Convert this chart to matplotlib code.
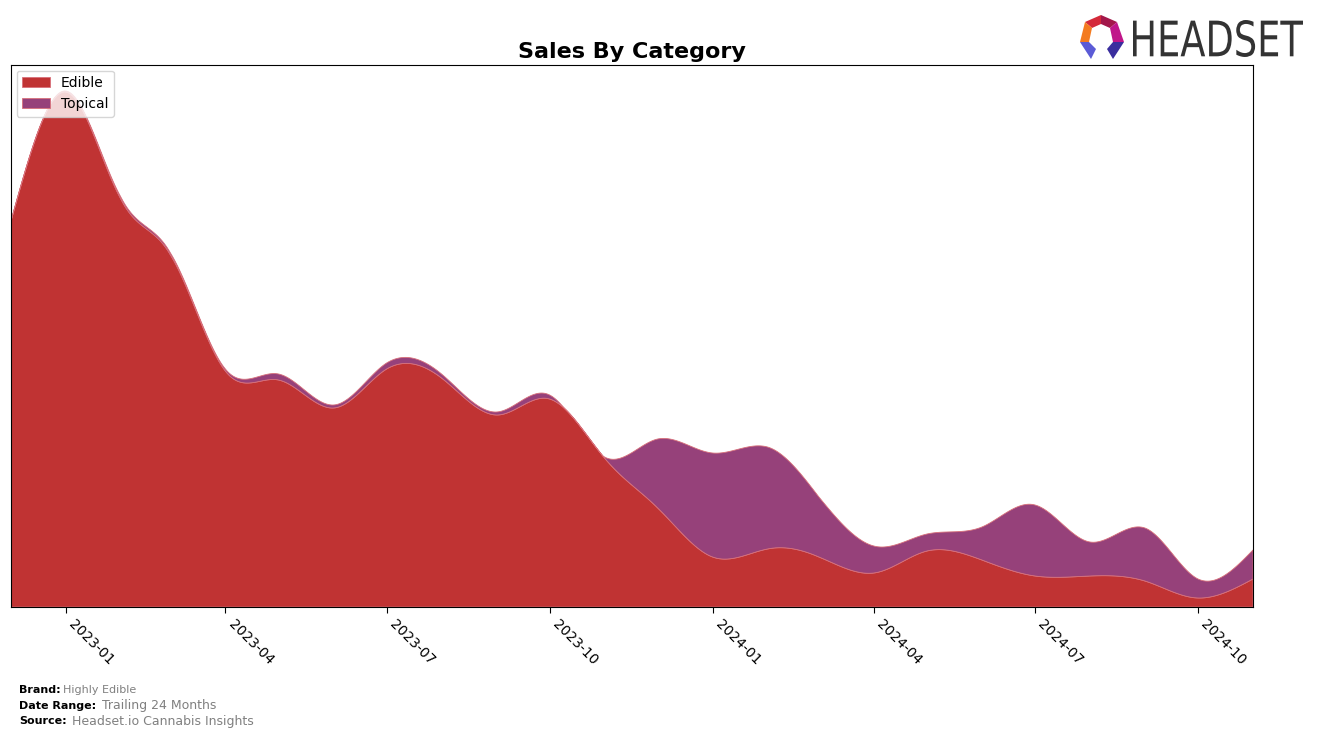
import numpy as np
import matplotlib
matplotlib.use("Agg")
import matplotlib.pyplot as plt
import matplotlib.dates as mdates
from matplotlib.patches import Polygon, PathPatch
from matplotlib.textpath import TextPath
from matplotlib.font_manager import FontProperties
from matplotlib.transforms import Affine2D
import datetime as dt

# monthly sales (arbitrary units)
months = ["2022-12", "2023-01", "2023-02", "2023-03", "2023-04", "2023-05",
          "2023-06", "2023-07", "2023-08", "2023-09", "2023-10", "2023-11",
          "2023-12", "2024-01", "2024-02", "2024-03", "2024-04", "2024-05",
          "2024-06", "2024-07", "2024-08", "2024-09", "2024-10", "2024-11"]
edible = [386, 515, 408, 352, 236, 227, 199, 238, 229, 192, 208, 149,
          99, 50, 58, 50, 34, 56, 47, 31, 31, 26, 9, 28]
topical = [0, 1, 2, 2, 2, 6, 3, 6, 4, 3, 4, 1,
           69, 104, 102, 60, 27, 17, 33, 71, 34, 53, 19, 29]
tick_labels = ["2023-01", "2023-04", "2023-07", "2023-10",
               "2024-01", "2024-04", "2024-07", "2024-10"]

edible_color = "#C03333"
topical_color = "#96417A"


def spline(y, n=800):
    # natural cubic spline on evenly spaced knots
    y = np.asarray(y, float)
    k = len(y)
    A = np.zeros((k, k))
    b = np.zeros(k)
    A[0, 0] = A[-1, -1] = 1
    for i in range(1, k - 1):
        A[i, i - 1], A[i, i], A[i, i + 1] = 1, 4, 1
        b[i] = 6 * (y[i + 1] - 2 * y[i] + y[i - 1])
    M = np.linalg.solve(A, b)
    t = np.linspace(0, k - 1, n)
    i = np.minimum(t.astype(int), k - 2)
    u = t - i
    val = ((1 - u) * y[i] + u * y[i + 1]
           + ((1 - u) ** 3 - (1 - u)) * M[i] / 6 + (u ** 3 - u) * M[i + 1] / 6)
    return t, val


dates = [dt.datetime.strptime(m, "%Y-%m") for m in months]
dnum = mdates.date2num(dates)

t, ed_s = spline(edible)
_, top_s = spline(topical)
x = np.interp(t, np.arange(len(dnum)), dnum)
ed_s = np.clip(ed_s, 0, None)
top_s = np.clip(top_s, 0, None)

fig = plt.figure(figsize=(13.17, 7.38), dpi=100)
ax = fig.add_axes([11 / 1317, 1 - 607 / 738, 1242 / 1317, 542 / 738])

ax.stackplot(x, ed_s, top_s, colors=[edible_color, topical_color],
             labels=["Edible", "Topical"], linewidth=0.6,
             edgecolor=["#D8707A", "#B06A9A"])

ax.set_xlim(dnum[0], dnum[-1])
ax.set_ylim(0, 542)
ax.set_yticks([])
ticks = mdates.date2num([dt.datetime.strptime(s, "%Y-%m") for s in tick_labels])
ax.set_xticks(ticks)
ax.set_xticklabels(tick_labels, rotation=-45, ha="left", va="top", fontsize=10)
ax.tick_params(axis="x", length=4)

ax.set_title("Sales By Category", fontsize=16, fontweight="bold", pad=5)
leg = ax.legend(loc="upper left", fontsize=10, borderaxespad=0.4)

# footer
fig.text(19 / 1317, 1 - 690 / 738, "Brand:", fontsize=8, fontweight="bold", va="center")
fig.text(63 / 1317, 1 - 690 / 738, "Highly Edible", fontsize=8, color="gray", va="center")
fig.text(19 / 1317, 1 - 706 / 738, "Date Range:", fontsize=8, fontweight="bold", va="center")
fig.text(102 / 1317, 1 - 706 / 738, "Trailing 24 Months", fontsize=9, color="gray", va="center")
fig.text(19 / 1317, 1 - 721 / 738, "Source:", fontsize=8, fontweight="bold", va="center")
fig.text(72 / 1317, 1 - 721 / 738, "Headset.io Cannabis Insights", fontsize=9, color="gray", va="center")

# logo icon, drawn in pixel coordinates of the figure
lax = fig.add_axes([1075 / 1317, 1 - 65 / 738, 55 / 1317, 55 / 738])
lax.set_xlim(1075, 1130)
lax.set_ylim(65, 10)
lax.axis("off")
pieces = [
    ([(1085, 22), (1101, 15), (1101, 24), (1092, 28)], "#D42A3A"),
    ([(1101, 15), (1117, 22), (1110, 28), (1101, 24)], "#A3174A"),
    ([(1117, 22), (1124, 42), (1113, 42), (1110, 28)], "#C0168A"),
    ([(1085, 22), (1092, 28), (1089, 42), (1080, 42)], "#F47B20"),
    ([(1080, 42), (1089, 42), (1096, 49), (1091, 59)], "#5B5BD6"),
    ([(1113, 42), (1124, 42), (1113, 59), (1107, 49)], "#3A2E9E"),
]
for pts, c in pieces:
    lax.add_patch(Polygon(pts, closed=True, color=c, lw=0))

# logo text
tp = TextPath((0, 0), "HEADSET", size=10, prop=FontProperties(family="DejaVu Sans"))
ext = tp.get_extents()
x0, x1 = 1133 / 1317, 1303 / 1317
y0, y1 = 1 - 57 / 738, 1 - 20 / 738
tr = Affine2D().translate(-ext.x0, -ext.y0).scale((x1 - x0) / ext.width,
                                                   (y1 - y0) / ext.height).translate(x0, y0)
fig.add_artist(PathPatch(tr.transform_path(tp), transform=fig.transFigure,
                         color="#333333", lw=0))

fig.savefig("out.png", dpi=100)
